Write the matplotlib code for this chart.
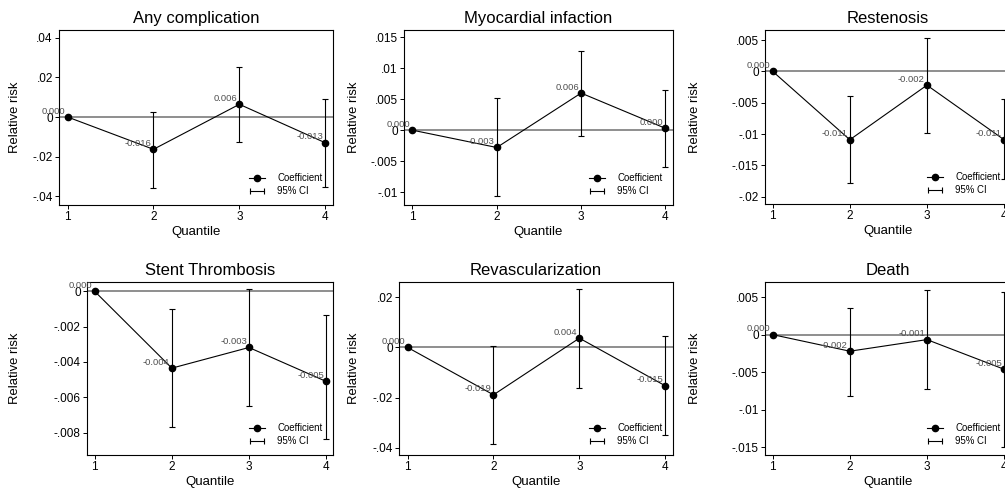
import numpy as np
import matplotlib.pyplot as plt
from matplotlib.lines import Line2D
from matplotlib.legend_handler import HandlerLine2D

plt.rcParams['font.family'] = ['Liberation Sans', 'DejaVu Sans']

quantiles = [1, 2, 3, 4]

titles = ["Any complication", "Myocardial infaction", "Restenosis",
          "Stent Thrombosis", "Revascularization", "Death"]

coef_any = [0.0, -0.0163, 0.0064, -0.0130]
lo_any = [0.0, -0.0360, -0.0126, -0.0352]
hi_any = [0.0, 0.0027, 0.0251, 0.0089]

coef_mi = [0.0, -0.0028, 0.0060, 0.0003]
lo_mi = [0.0, -0.0107, -0.0009, -0.0060]
hi_mi = [0.0, 0.0052, 0.0128, 0.0065]

coef_rest = [0.0, -0.0109, -0.0022, -0.0109]
lo_rest = [0.0, -0.0178, -0.0099, -0.0172]
hi_rest = [0.0, -0.0040, 0.0054, -0.0044]

coef_st = [0.0, -0.00435, -0.00318, -0.0051]
lo_st = [0.0, -0.0077, -0.0065, -0.00834]
hi_st = [0.0, -0.0010, 0.00015, -0.00136]

coef_revasc = [0.0, -0.0189, 0.0037, -0.0153]
lo_revasc = [0.0, -0.0385, -0.0160, -0.0351]
hi_revasc = [0.0, 0.0004, 0.0235, 0.0044]

coef_death = [0.0, -0.0022, -0.00066, -0.0046]
lo_death = [0.0, -0.0081, -0.0072, -0.0149]
hi_death = [0.0, 0.0036, 0.0060, 0.0057]

coefs = [coef_any, coef_mi, coef_rest, coef_st, coef_revasc, coef_death]
lows = [lo_any, lo_mi, lo_rest, lo_st, lo_revasc, lo_death]
highs = [hi_any, hi_mi, hi_rest, hi_st, hi_revasc, hi_death]

yticks = [
    [0.04, 0.02, 0, -0.02, -0.04],
    [0.015, 0.01, 0.005, 0, -0.005, -0.01],
    [0.005, 0, -0.005, -0.01, -0.015, -0.02],
    [0, -0.002, -0.004, -0.006, -0.008],
    [0.02, 0, -0.02, -0.04],
    [0.005, 0, -0.005, -0.01, -0.015],
]
yticklabels = [
    [".04", ".02", "0", "-.02", "-.04"],
    [".015", ".01", ".005", "0", "-.005", "-.01"],
    [".005", "0", "-.005", "-.01", "-.015", "-.02"],
    ["0", "-.002", "-.004", "-.006", "-.008"],
    [".02", "0", "-.02", "-.04"],
    [".005", "0", "-.005", "-.01", "-.015"],
]
ylims = [(-0.0444, 0.0439), (-0.0121, 0.0162), (-0.02115, 0.0066),
         (-0.00927, 0.00053), (-0.0429, 0.0261), (-0.0160, 0.0070)]

W, H = 1005, 493
fig = plt.figure(figsize=(W / 100, H / 100), dpi=100)

# panel boxes in pixels: left, right, top, bottom
boxes = [(59, 333, 30, 205), (404, 673, 30, 205), (765, 1011, 30, 204),
         (87, 333, 282, 455), (399, 673, 282, 455), (765, 1011, 282, 455)]
ylabel_x = [15, 354, 695, 15, 354, 695]

for i in range(6):
    l, r, t, b = boxes[i]
    ax = fig.add_axes([l / W, 1 - b / H, (r - l) / W, (b - t) / H])
    ax.axhline(0, color="#707070", lw=1.1, zorder=1)
    c = np.array(coefs[i])
    err = [c - np.array(lows[i]), np.array(highs[i]) - c]
    ax.errorbar(quantiles, c, yerr=err, fmt="none", ecolor="black",
                elinewidth=0.8, capsize=2.5, capthick=0.8, zorder=2)
    ax.plot(quantiles, c, color="black", lw=0.8, marker="o", ms=4.5, zorder=3)
    for x, v in zip(quantiles, c):
        ax.annotate("%.3f" % v, (x, v), xytext=(-1.5, 1), textcoords="offset points",
                    ha="right", va="bottom", fontsize=6.8, color="#505050", zorder=4)
    ax.set_xlim(0.9, 4.09)
    ax.set_ylim(*ylims[i])
    ax.set_xticks(quantiles)
    ax.set_yticks(yticks[i])
    ax.set_yticklabels(yticklabels[i])
    ax.tick_params(labelsize=8.5, length=3, width=0.7, pad=1.5)
    for s in ax.spines.values():
        s.set_linewidth(0.8)
    ax.set_xlabel("Quantile", fontsize=9.5, labelpad=2)
    ax.set_title(titles[i], fontsize=12, pad=5)

    # legend: marker+line for the estimate, capped bar for the interval
    ci_handle = Line2D([], [], color="black", lw=0.8, marker="|", ms=4, mew=0.8)
    coef_handle = Line2D([], [], color="black", lw=0.8, marker="o", ms=4.5)
    ax.legend([coef_handle, ci_handle], ["Coefficient", "95% CI"],
              handler_map={ci_handle: HandlerLine2D(numpoints=2, marker_pad=0.05)},
              loc="lower right", bbox_to_anchor=(1 - 2 / (r - l), 0.0),
              frameon=False, fontsize=6.9, handlelength=1.6, handletextpad=1.3,
              labelspacing=0.35, borderaxespad=0.5)

    fig.text(ylabel_x[i] / W, 1 - ((t + b) / 2) / H, "Relative risk",
             rotation=90, ha="center", va="center", fontsize=9.4)

fig.savefig("out.png", dpi=100)
